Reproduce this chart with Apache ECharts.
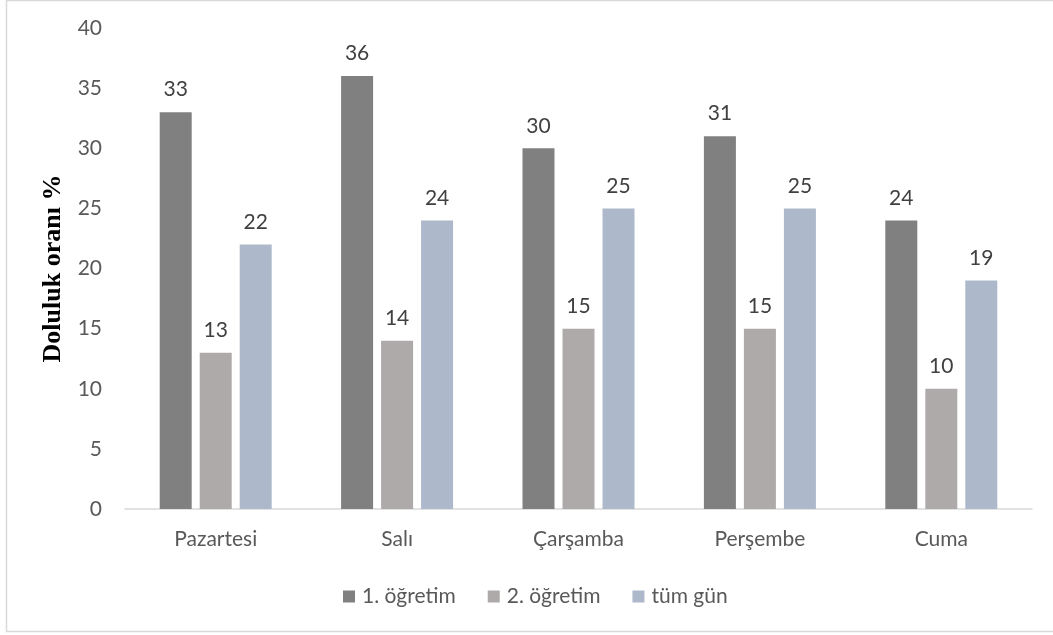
<!DOCTYPE html>
<html>
<head>
<meta charset="utf-8">
<script src="https://cdn.jsdelivr.net/npm/echarts@6/dist/echarts.min.js"></script>
<style>
  html, body { margin: 0; padding: 0; background: #fff; }
  #chart { width: 1053px; height: 635px; }
</style>
</head>
<body>
<div id="chart"></div>
<script>
// Weekday occupancy rates
const days = ['Pazartesi', 'Salı', 'Çarşamba', 'Perşembe', 'Cuma'];
const seriesNames = ['1. öğretim', '2. öğretim', 'tüm gün'];
const ogretim1 = [33, 36, 30, 31, 24];
const ogretim2 = [13, 14, 15, 15, 10];
const tumGun = [22, 24, 25, 25, 19];
const yTicks = [0, 5, 10, 15, 20, 25, 30, 35, 40];

const colors = ['#808080', '#aeaaaa', '#adb9ca'];
const font = 'Lato, "Open Sans", sans-serif';
const fontSize = 21;

const chart = echarts.init(document.getElementById('chart'), null, { renderer: 'canvas' });

function barSeries(name, data, color) {
  return {
    name: name,
    type: 'bar',
    data: data,
    barWidth: 32,
    barGap: '25%',
    itemStyle: { color: color },
    label: {
      show: true,
      position: 'top',
      distance: 12,
      color: '#404040',
      fontSize: fontSize,
      fontFamily: font
    }
  };
}

chart.setOption({
  animation: false,
  graphic: [{
    type: 'rect',
    shape: { x: 6.5, y: 0.5, width: 1060, height: 631 },
    style: { fill: 'none', stroke: '#d9d9d9', lineWidth: 1.5 },
    silent: true
  }],
  grid: { left: 125, right: 21, top: 28, bottom: 126, containLabel: false },
  legend: {
    data: seriesNames,
    bottom: 23,
    left: 338,
    itemWidth: 12,
    itemHeight: 12,
    itemGap: 32,
    icon: 'rect',
    textStyle: { color: '#595959', fontSize: fontSize, fontFamily: font, padding: [0, 0, 0, 2] }
  },
  xAxis: {
    type: 'category',
    data: days,
    axisLine: { lineStyle: { color: '#d9d9d9', width: 1.5 } },
    axisTick: { show: false },
    axisLabel: { color: '#595959', fontSize: fontSize, fontFamily: font, margin: 20 }
  },
  yAxis: {
    type: 'value',
    min: yTicks[0],
    max: yTicks[yTicks.length - 1],
    interval: yTicks[1] - yTicks[0],
    name: 'Doluluk oranı %',
    nameLocation: 'middle',
    nameGap: 51,
    nameTextStyle: { fontFamily: '"Liberation Serif", "Times New Roman", serif', fontWeight: 'bold', fontSize: 26, color: '#000' },
    axisLine: { show: false },
    axisTick: { show: false },
    splitLine: { show: false },
    axisLabel: { color: '#595959', fontSize: fontSize, fontFamily: font, margin: 23 }
  },
  series: [
    barSeries(seriesNames[0], ogretim1, colors[0]),
    barSeries(seriesNames[1], ogretim2, colors[1]),
    barSeries(seriesNames[2], tumGun, colors[2])
  ]
});
</script>
</body>
</html>
